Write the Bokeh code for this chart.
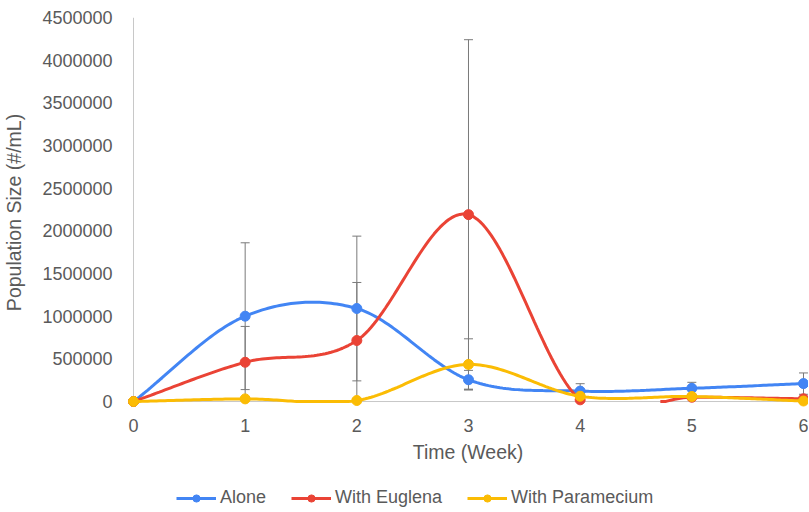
import numpy as np
from bokeh.plotting import figure
from bokeh.layouts import column
from bokeh.models import Range1d, FixedTicker, Whisker, TeeHead, ColumnDataSource, Legend, LegendItem
from bokeh.embed import file_html
from bokeh.resources import INLINE

# ---- data ----
weeks = [0, 1, 2, 3, 4, 5, 6]
alone = [0, 1000000, 1090000, 255000, 122000, 155000, 210000]
alone_err = [0, 860000, 848000, 110000, 87000, 70000, 125000]
euglena = [0, 460000, 715000, 2190000, 20000, 50000, 32000]
euglena_err = [0, 420000, 680000, 2050000, 10000, 10000, 10000]
paramecium = [0, 31000, 12000, 435000, 62000, 59000, 6000]
paramecium_err = [0, 15000, 10000, 300000, 20000, 15000, 5000]

series_names = ["Alone", "With Euglena", "With Paramecium"]
colors = ["#4285F4", "#EA4335", "#FBBC04"]

y_ticks = [0, 500000, 1000000, 1500000, 2000000, 2500000, 3000000, 3500000, 4000000, 4500000]
y_tick_labels = ["0", "500000", "1000000", "1500000", "2000000", "2500000", "3000000", "3500000", "4000000", "4500000"]
x_ticks = weeks
x_tick_labels = ["0", "1", "2", "3", "4", "5", "6"]

FONT = "Liberation Sans"
TXT = "#5a5a5a"
W = 808


def smooth(xs, ys, n=40):
    xs = np.asarray(xs, float)
    ys = np.asarray(ys, float)
    ox, oy = [], []
    N = len(xs)
    for i in range(N - 1):
        x0, x1, y0, y1 = xs[i], xs[i + 1], ys[i], ys[i + 1]
        h = x1 - x0
        m0 = (ys[i + 1] - ys[i - 1]) / (xs[i + 1] - xs[i - 1]) if i > 0 else (y1 - y0) / h
        m1 = (ys[i + 2] - ys[i]) / (xs[i + 2] - xs[i]) if i + 2 < N else (y1 - y0) / h
        t = np.linspace(0, 1, n)
        h00 = 2 * t**3 - 3 * t**2 + 1
        h10 = t**3 - 2 * t**2 + t
        h01 = -2 * t**3 + 3 * t**2
        h11 = t**3 - t**2
        yy = h00 * y0 + h10 * h * m0 + h01 * y1 + h11 * h * m1
        ox.extend(list(x0 + t * h))
        oy.extend(list(yy))
    raw = np.array(oy)
    oy = np.clip(raw, 0, None)
    oy[raw < -20000] = np.nan  # emulate clipping at chart bottom
    return np.array(ox), oy


p = figure(width=W, height=470,
           x_range=Range1d(-0.0537, 6.0448), y_range=Range1d(-70000, 4500000),
           output_backend="svg", toolbar_location=None,
           min_border_left=119, min_border_right=0, min_border_top=17, min_border_bottom=63)
p.outline_line_color = None
p.grid.visible = False
p.background_fill_color = "white"

# axes
p.xaxis.ticker = FixedTicker(ticks=x_ticks)
p.yaxis.ticker = FixedTicker(ticks=y_ticks)
p.xaxis.major_label_overrides = {t: l for t, l in zip(x_ticks, x_tick_labels)}
p.yaxis.major_label_overrides = {t: l for t, l in zip(y_ticks, y_tick_labels)}
for ax in (p.xaxis, p.yaxis):
    ax.axis_line_color = None
    ax.major_tick_line_color = None
    ax.minor_tick_line_color = None
    ax.major_label_text_font = FONT
    ax.major_label_text_font_size = "18px"
    ax.major_label_text_color = TXT
    ax.axis_label_text_font = FONT
    ax.axis_label_text_font_size = "19.5px"
    ax.axis_label_text_font_style = "normal"
    ax.axis_label_text_color = TXT
p.xaxis.axis_label = "Time (Week)"
p.yaxis.axis_label = "Population Size (#/mL)"
p.xaxis.major_label_standoff = 5
p.xaxis.axis_label_standoff = 6
p.yaxis.major_label_standoff = 9
p.yaxis.axis_label_standoff = 14

# axis lines (baseline and vertical)
p.segment(x0=[x_ticks[0]], y0=[y_ticks[0]], x1=[x_ticks[0]], y1=[y_ticks[-1]], line_color="#c8c8c8", line_width=1)
p.segment(x0=[x_ticks[0]], y0=[y_ticks[0]], x1=[x_ticks[-1] + 0.03], y1=[y_ticks[0]], line_color="#c8c8c8", line_width=1)

all_vals = [alone, euglena, paramecium]
all_errs = [alone_err, euglena_err, paramecium_err]
for name, vals, errs, c in zip(series_names, all_vals, all_errs, colors):
    lo = [v - e for v, e in zip(vals, errs)]
    hi = [v + e for v, e in zip(vals, errs)]
    src = ColumnDataSource(dict(x=weeks, lower=lo, upper=hi))
    w = Whisker(source=src, base="x", lower="lower", upper="upper",
                line_color="#7a7a7a", line_width=1, level="underlay",
                upper_head=TeeHead(size=9, line_color="#7a7a7a", line_width=1),
                lower_head=TeeHead(size=9, line_color="#7a7a7a", line_width=1))
    p.add_layout(w)

for name, vals, errs, c in zip(series_names, all_vals, all_errs, colors):
    sx, sy = smooth(weeks, vals)
    p.line(sx, sy, line_color=c, line_width=3)
    p.scatter(weeks, vals, size=10, fill_color=c, line_color=c)

# ---- legend strip (renderers hold the series but lie outside its view) ----
lg = figure(width=W, height=38, x_range=Range1d(0, 1), y_range=Range1d(-2, -1),
            output_backend="svg", toolbar_location=None,
            x_axis_location=None, y_axis_location=None,
            min_border_left=0, min_border_right=0, min_border_top=0, min_border_bottom=0)
lg.outline_line_color = None
lg.grid.visible = False
items = []
for name, vals, c in zip(series_names, all_vals, colors):
    r1 = lg.line(weeks, vals, line_color=c, line_width=3)
    r2 = lg.scatter(weeks, vals, size=9, fill_color=c, line_color=c)
    items.append(LegendItem(label=name, renderers=[r1, r2]))

legend = Legend(items=items, orientation="horizontal", location=(49, 0))
legend.padding = 0
legend.margin = 0
legend.spacing = 25
legend.glyph_width = 40
legend.glyph_height = 18
legend.label_height = 18
legend.label_standoff = 4
legend.label_text_font = FONT
legend.label_text_font_size = "18px"
legend.label_text_color = TXT
legend.border_line_color = None
legend.background_fill_alpha = 0
lg.add_layout(legend, "center")

layout = column(p, lg, spacing=0)
open("out.html", "w").write(file_html(layout, INLINE))
